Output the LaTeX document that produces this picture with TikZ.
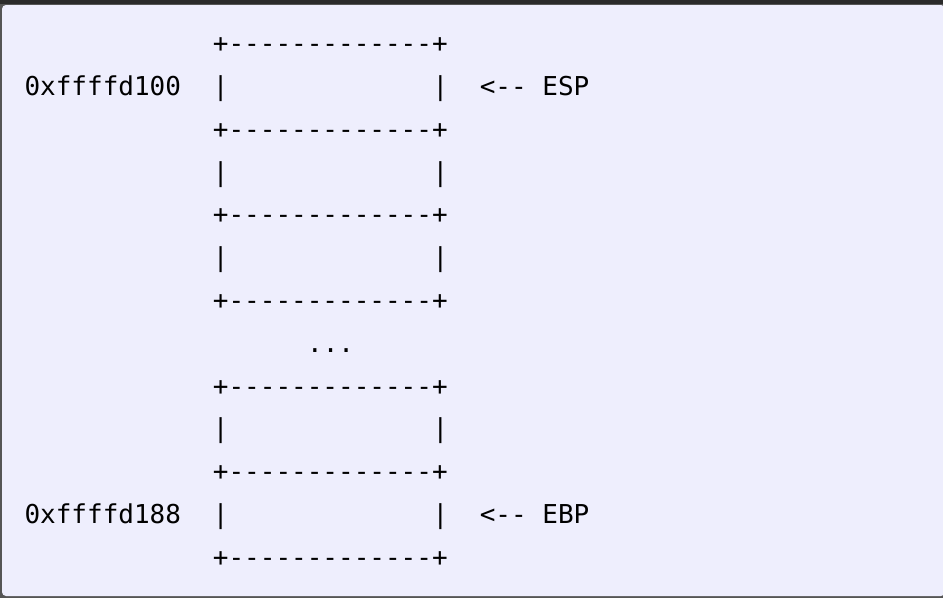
\documentclass[tikz,border=0pt]{standalone}
\usepackage{fontspec}
\newfontfamily\codefont{DejaVu Sans Mono}
\definecolor{codebg}{RGB}{238,238,253}
\definecolor{topbar}{RGB}{43,43,43}
\definecolor{edge}{RGB}{85,85,85}
\tikzset{
  txt/.style={anchor=base west, inner sep=0pt, outer sep=0pt, font=\codefont\fontsize{26}{30}\selectfont, text=black},
}
\newcommand{\cx}[1]{24.5+#1*15.7}
\newcommand{\by}[1]{95.5+(#1-1)*42.8}
\begin{document}
\begin{tikzpicture}[x=1pt,y=-1pt]
\useasboundingbox (0,0) rectangle (943,598);
% code block frame
\fill[edge] (0,0) rectangle (943,598);
\fill[codebg, rounded corners=4pt] (2,5) rectangle (945,596);
\fill[topbar] (0,0) rectangle (943,3.5);
% rows
\foreach \r/\nm in {0/b0,2/b2,4/b4,6/b6,8/b8,10/b10,12/b12}{
  \node[txt] (\nm) at ({\cx{12}},{\by{\r}}) {+-------------+};
}
\foreach \r/\nm in {1/l1,3/l3,5/l5,9/l9,11/l11}{
  \node[txt] (\nm) at ({\cx{12}},{\by{\r}}) {|};
  \node[txt] (\nm r) at ({\cx{26}},{\by{\r}}) {|};
}
\node[txt] (dots) at ({\cx{18}},{\by{7}}) {...};
\node[txt] (addr1) at ({\cx{0}},{\by{1}}) {0xffffd100};
\node[txt] (addr2) at ({\cx{0}},{\by{11}}) {0xffffd188};
\node[txt] (esp) at ({\cx{29}},{\by{1}}) {<-{}- ESP};
\node[txt] (ebp) at ({\cx{29}},{\by{11}}) {<-{}- EBP};
\end{tikzpicture}
\end{document}
